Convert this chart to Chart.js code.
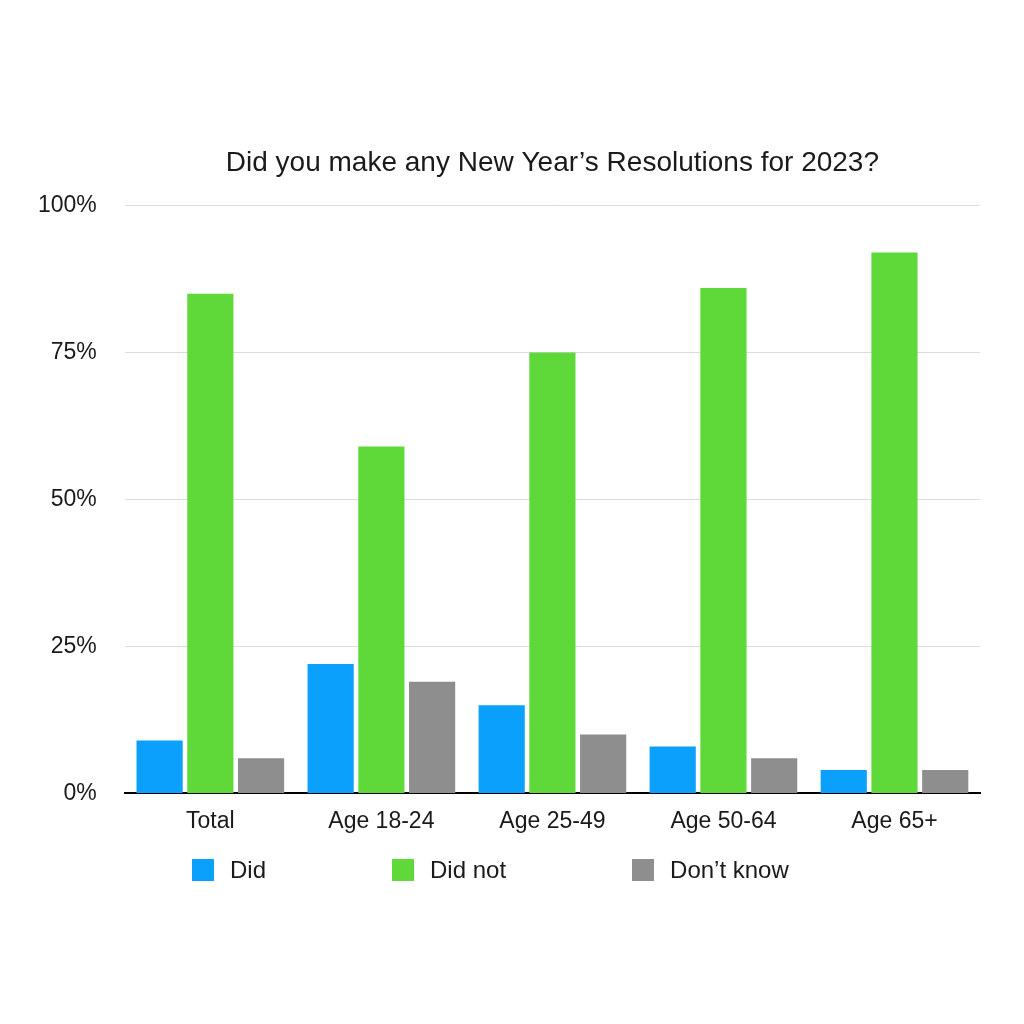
<!DOCTYPE html>
<html>
<head>
<meta charset="utf-8">
<script src="https://cdn.jsdelivr.net/npm/chart.js@4"></script>
<style>
	html, body { margin: 0; padding: 0; background: #ffffff; }
	#wrap { position: relative; width: 1024px; height: 1024px; }
	#legend { position: absolute; left: 192px; top: 856px; display: flex; font-family: "Liberation Sans", Arial, sans-serif; font-size: 24px; line-height: 28px; color: #1a1a1a; }
	#legend .item { display: flex; align-items: center; margin-right: 126px; }
	#legend .box { width: 22px; height: 22px; margin-right: 16px; }
</style>
</head>
<body>
<div id="wrap">
	<canvas id="chart" width="1024" height="1024"></canvas>
	<div id="legend"></div>
</div>
<script>
const categories = ['Total', 'Age 18-24', 'Age 25-49', 'Age 50-64', 'Age 65+'];
const did = [9, 22, 15, 8, 4];
const didNot = [85, 59, 75, 86, 92];
const dontKnow = [6, 19, 10, 6, 4];
const yTicks = [0, 25, 50, 75, 100];
const colors = {
	did: '#0aa0fb',
	didNot: '#5fd83a',
	dontKnow: '#8e8e8e',
	text: '#1a1a1a',
	grid: '#dcdcdc'
};
const font = '"Liberation Sans", Arial, sans-serif';
const get = id => {
	return document.getElementById(id);
};
const htmlLegend = {
	id: 'htmlLegend',
	afterUpdate: chart => {
		const container = get('legend');
		container.innerHTML = '';
		const items = chart.options.plugins.legend.labels.generateLabels(chart);
		items.forEach(item => {
			const li = document.createElement('div');
			li.className = 'item';
			const box = document.createElement('span');
			box.className = 'box';
			box.style.background = item.fillStyle;
			const label = document.createElement('span');
			label.textContent = item.text;
			li.appendChild(box);
			li.appendChild(label);
			container.appendChild(li);
		});
	}
};
new Chart(get('chart'), {
	type: 'bar',
	data: {
		labels: categories,
		datasets: [{
			label: 'Did',
			data: did,
			backgroundColor: colors.did
		}, {
			label: 'Did not',
			data: didNot,
			backgroundColor: colors.didNot
		}, {
			label: 'Don\u2019t know',
			data: dontKnow,
			backgroundColor: colors.dontKnow
		}]
	},
	options: {
		responsive: false,
		animation: false,
		categoryPercentage: 0.89,
		barPercentage: 0.91,
		layout: {
			padding: { top: 146, left: 10, right: 44, bottom: 175 }
		},
		plugins: {
			legend: { display: false },
			tooltip: { enabled: false },
			title: {
				display: true,
				fullSize: false,
				text: 'Did you make any New Year\u2019s Resolutions for 2023?',
				color: colors.text,
				font: { family: font, size: 28, weight: 'normal' },
				padding: { top: 0, bottom: 26 }
			}
		},
		scales: {
			x: {
				grid: { display: false, drawTicks: false },
				border: { display: true, color: '#000000', width: 2 },
				ticks: {
					color: colors.text,
					font: { family: font, size: 23 },
					padding: 14
				}
			},
			y: {
				min: 0,
				max: 100,
				afterBuildTicks: axis => {
					axis.ticks = yTicks.map(value => ({ value: value }));
				},
				grid: { color: colors.grid, lineWidth: 1, drawTicks: false },
				border: { display: false },
				ticks: {
					color: colors.text,
					font: { family: font, size: 23 },
					padding: 28,
					callback: value => value + '%'
				}
			}
		}
	},
	plugins: [htmlLegend]
});
</script>
</body>
</html>
